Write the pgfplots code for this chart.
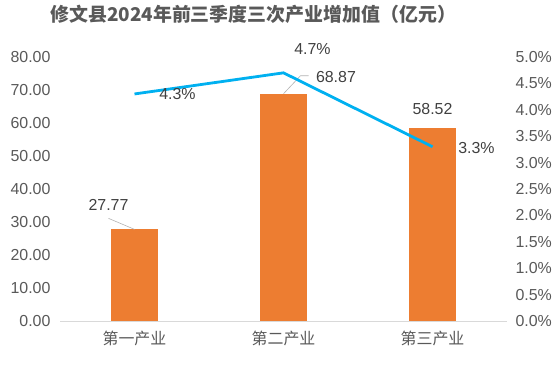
\documentclass[border=0pt]{standalone}
\usepackage{pgfplots}
\pgfplotsset{compat=1.18}
\usepackage{fontspec}
\setmainfont{Liberation Sans}
\newfontfamily\cjk{Noto Sans CJK SC}
\definecolor{barc}{HTML}{ED7D31}
\definecolor{linec}{HTML}{00B0F0}
\definecolor{tickc}{HTML}{595959}
\definecolor{labc}{HTML}{404040}
\definecolor{axc}{HTML}{D9D9D9}
\begin{document}
\begin{tikzpicture}
\path[use as bounding box] (0bp,0bp) rectangle (559bp,368bp);
\begin{axis}[
  at={(60bp,47bp)}, anchor=south west,
  scale only axis, width=447bp, height=264bp,
  xmin=-0.5, xmax=2.5, ymin=0, ymax=80,
  axis x line*=bottom, axis y line*=left,
  x axis line style={draw=axc, line width=0.8bp, -},
  y axis line style={draw=none},
  major tick length=0pt,
  xtick={0,1,2}, xticklabels={第一产业,第二产业,第三产业},
  xticklabel style={font=\cjk\fontsize{16}{18}\selectfont, text=tickc, yshift=-7bp},
  ytick={0,10,...,80},
  yticklabel style={font=\fontsize{16}{18}\selectfont, text=tickc, xshift=-6bp},
  /pgf/number format/.cd, fixed, fixed zerofill, precision=2, assume math mode=true, /pgfplots/.cd,
  title={修文县2024年前三季度三次产业增加值（亿元）},
  title style={font=\cjk\bfseries\fontsize{19}{23}\selectfont, text=tickc, at={(0.432,1.14)}, anchor=center},
  every node near coord/.append style={font=\fontsize{16}{18}\selectfont, text=labc},
  nodes near coords={\pgfmathprintnumber{\pgfplotspointmeta}},
]
\addplot[ybar, bar width=47bp, bar shift=0pt, fill=barc, draw=none,
  nodes near coords style={anchor=center, xshift=-26bp, yshift=24bp}]
  coordinates {(0,27.77)};
\addplot[ybar, bar width=47bp, bar shift=0pt, fill=barc, draw=none,
  nodes near coords style={anchor=west, xshift=29bp, yshift=17bp}]
  coordinates {(1,68.87)};
\addplot[ybar, bar width=47bp, bar shift=0pt, fill=barc, draw=none,
  nodes near coords style={anchor=center, xshift=0bp, yshift=19bp}]
  coordinates {(2,58.52)};
\draw[gray!60, line width=0.6bp] (axis cs:0,27.77) -- ++(-26bp,11bp);
\draw[gray!60, line width=0.6bp] (axis cs:1,68.87) -- ++(17bp,18bp) -- ++(8bp,0bp);
\end{axis}
\begin{axis}[
  at={(60bp,47bp)}, anchor=south west,
  scale only axis, width=447bp, height=264bp,
  xmin=-0.5, xmax=2.5, ymin=0, ymax=5,
  axis x line=none, axis y line*=right,
  y axis line style={draw=none},
  major tick length=0pt,
  ytick={0,0.5,...,5},
  yticklabel={\pgfmathprintnumber{\tick}\%},
  yticklabel style={font=\fontsize{16}{18}\selectfont, text=tickc, anchor=west, xshift=5bp},
  /pgf/number format/.cd, fixed, fixed zerofill, precision=1, assume math mode=true, /pgfplots/.cd,
  every node near coord/.append style={font=\fontsize{16}{18}\selectfont, text=labc},
]
\addplot[linec, line width=2.8bp, mark=none] coordinates {(0,4.3) (1,4.7) (2,3.3)};
\addplot[draw=none, mark=none, nodes near coords={\pgfmathprintnumber{\pgfplotspointmeta}\%}, nodes near coords style={anchor=center, xshift=43bp, yshift=0bp}] coordinates {(0,4.3)};
\addplot[draw=none, mark=none, nodes near coords={\pgfmathprintnumber{\pgfplotspointmeta}\%}, nodes near coords style={anchor=center, xshift=29bp, yshift=24bp}] coordinates {(1,4.7)};
\addplot[draw=none, mark=none, nodes near coords={\pgfmathprintnumber{\pgfplotspointmeta}\%}, nodes near coords style={anchor=center, xshift=44bp, yshift=-1bp}] coordinates {(2,3.3)};
\end{axis}
\end{tikzpicture}
\end{document}
